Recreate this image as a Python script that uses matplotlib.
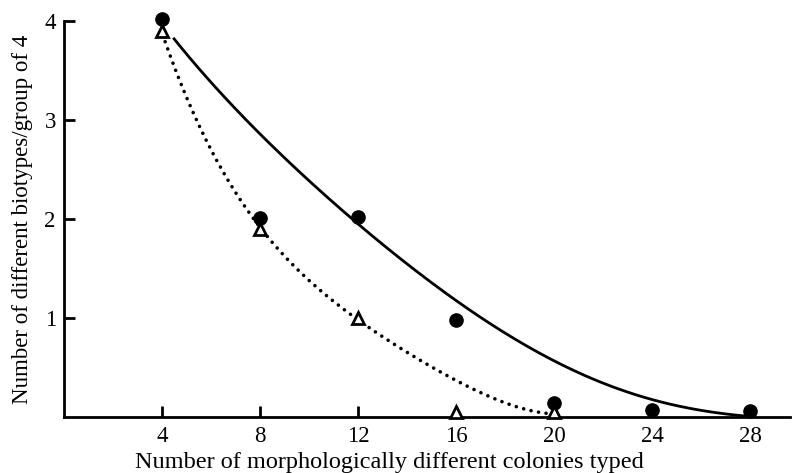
import numpy as np
import matplotlib.pyplot as plt

# Data points
colonies = [4, 8, 12, 16, 20, 24, 28]
biotypes_circle = [4.02, 2.01, 2.02, 0.98, 0.14, 0.07, 0.06]

colonies_tri = [4, 8, 12, 16, 20]
biotypes_tri = [3.9, 1.9, 1.0, 0.05, 0.05]

# Hand-drawn fitted curves
solid_x = [4.45, 7.18, 8.41, 10.3, 10.86, 11.96, 13.7, 14.24, 16.3, 18.3,
           20.4, 21.9, 22.4, 23.9, 24.3, 25.96, 27.6, 28.2]
solid_y = [3.83, 3.07, 2.73, 2.32, 2.21, 1.98, 1.61, 1.45, 1.13, 0.81,
           0.525, 0.36, 0.29, 0.19, 0.15, 0.07, 0.02, 0.0]

dotted_x = [4.12, 4.86, 5.55, 6.65, 7.59, 8.29, 9.0, 10.86, 11.96, 13.6,
            15.6, 17.7, 19.55, 19.8]
dotted_y = [3.83, 3.27, 2.87, 2.43, 2.09, 1.82, 1.62, 1.18, 1.0, 0.71,
            0.40, 0.20, 0.05, 0.02]


def smooth(xs, ys, deg=5):
    # the traced points are a bit jittery; draw them as one smooth stroke
    p = np.polyfit(xs, ys, deg)
    xx = np.linspace(xs[0], xs[-1], 200)
    return xx, np.maximum(np.polyval(p, xx), 0)


plt.rcParams['font.family'] = ['Liberation Serif', 'DejaVu Serif']

fig = plt.figure(figsize=(7.92, 4.73), dpi=100)
ax = fig.add_axes([0.081, 0.118, 0.916, 0.838])

sx, sy = smooth(solid_x, solid_y)
ax.plot(sx, sy, color='black', lw=2.0, solid_capstyle='butt')
dx, dy = smooth(dotted_x, dotted_y, deg=4)
ax.plot(dx, dy, color='black', lw=2.6, linestyle=(0, (0.01, 2.1)),
        dash_capstyle='round')

ax.plot(colonies, biotypes_circle, 'o', color='black', markersize=9.5,
        clip_on=False, zorder=5)
ax.plot(colonies_tri, biotypes_tri, '^', markerfacecolor='white',
        markeredgecolor='black', markeredgewidth=2.0, markersize=8.5,
        clip_on=False, zorder=6)

ax.set_xlim(0, 29.6)
ax.set_ylim(0, 4)
ax.set_xticks([4, 8, 12, 16, 20, 24, 28])
ax.set_yticks([1, 2, 3, 4])

for s in ['top', 'right']:
    ax.spines[s].set_visible(False)
for s in ['left', 'bottom']:
    ax.spines[s].set_linewidth(2.0)

ax.tick_params(direction='in', length=8, width=2.0, labelsize=16.5)
ax.tick_params(axis='x', pad=6)
ax.tick_params(axis='y', pad=6)

ax.set_xlabel('Number of morphologically different colonies typed',
              fontsize=17.5)
ax.xaxis.set_label_coords(0.448, -0.088)
ax.set_ylabel('Number of different biotypes/group of 4', fontsize=16.5,
              labelpad=8)

fig.savefig('out.png', dpi=100)
